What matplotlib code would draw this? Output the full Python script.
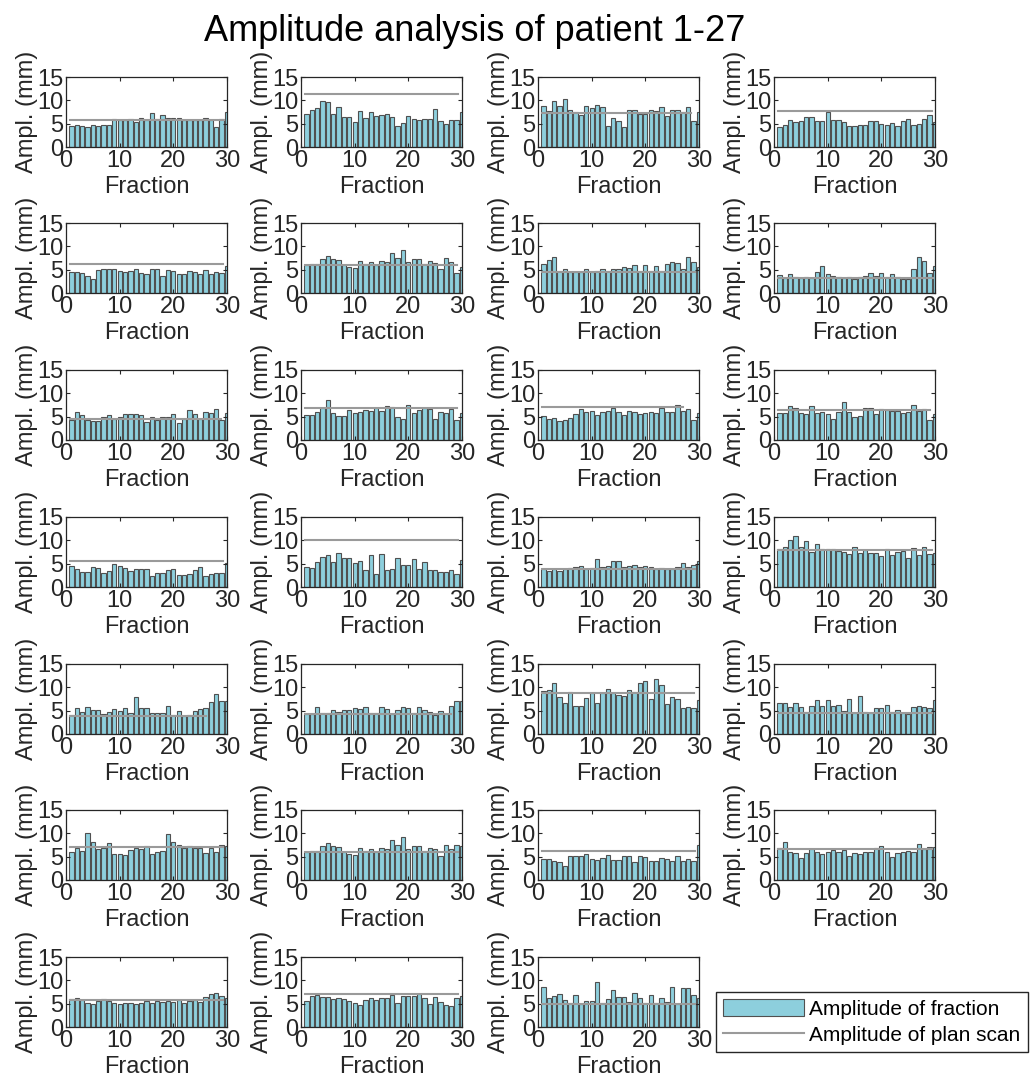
import matplotlib.pyplot as plt
from matplotlib.patches import Patch
from matplotlib.lines import Line2D

plt.rcParams['font.family'] = ['Liberation Sans', 'DejaVu Sans']

# amplitude per fraction (mm), one list per patient
p01 = [4.6, 4.7, 4.5, 4.2, 4.8, 4.4, 4.8, 4.7, 5.9, 5.8, 5.8, 5.9, 5.4, 6.2, 5.8, 7.3, 6.1, 6.9, 6.2, 6.2, 6.2, 5.7, 5.8, 5.8, 5.8, 6.2, 5.7, 4.3, 5.9, 7.6]
p02 = [7.1, 7.9, 8.3, 9.8, 9.7, 7.1, 8.5, 6.4, 6.4, 5.4, 7.8, 6.2, 7.5, 6.6, 6.9, 7.0, 6.5, 4.6, 5.1, 6.6, 5.9, 5.7, 5.9, 6.1, 8.1, 5.6, 5.0, 5.8, 5.7, 7.6]
p03 = [8.8, 7.8, 9.8, 8.8, 10.2, 8.0, 7.5, 6.9, 8.8, 8.3, 9.1, 8.5, 4.6, 6.3, 5.6, 4.2, 7.9, 7.9, 7.1, 7.1, 7.9, 7.8, 8.5, 6.6, 8.0, 8.0, 7.6, 8.6, 5.6, 7.6]
p04 = [4.3, 4.7, 5.8, 5.3, 5.6, 6.5, 6.5, 5.6, 5.5, 7.4, 5.7, 5.8, 5.4, 4.6, 4.5, 4.8, 4.7, 5.5, 5.6, 5.0, 4.8, 5.2, 4.5, 5.6, 6.1, 4.7, 5.0, 6.1, 6.9, 5.3]
p05 = [4.4, 4.5, 4.2, 3.7, 2.9, 5.0, 5.2, 5.1, 5.2, 4.7, 4.4, 4.8, 5.1, 4.2, 4.1, 5.1, 5.1, 3.7, 5.0, 4.8, 4.1, 4.1, 4.7, 4.5, 4.1, 5.0, 4.1, 4.5, 4.3, 5.8]
p06 = [5.9, 6.3, 6.3, 7.3, 7.9, 7.2, 7.0, 5.9, 5.6, 5.4, 6.9, 6.2, 6.6, 6.1, 6.9, 6.7, 8.5, 7.4, 9.2, 6.6, 7.3, 7.2, 6.2, 6.8, 6.4, 5.2, 7.6, 6.7, 4.3, 5.5]
p07 = [6.2, 7.0, 7.7, 4.7, 5.2, 4.6, 4.5, 4.6, 5.1, 4.6, 4.8, 5.2, 4.8, 5.1, 5.2, 5.5, 5.4, 5.9, 4.7, 6.0, 4.7, 5.8, 4.7, 6.3, 6.7, 6.5, 5.1, 7.7, 6.7, 5.6]
p08 = [3.9, 3.2, 4.0, 3.4, 3.2, 3.5, 3.2, 4.4, 5.7, 4.0, 3.6, 3.4, 3.3, 3.5, 2.9, 3.4, 3.6, 4.3, 3.7, 4.3, 3.4, 4.0, 3.5, 3.1, 3.0, 5.1, 7.7, 6.8, 4.3, 5.8]
p09 = [4.2, 5.9, 5.3, 4.2, 4.1, 4.1, 4.9, 5.4, 4.6, 4.9, 5.6, 5.5, 5.6, 5.3, 3.9, 5.0, 4.2, 5.0, 5.0, 5.5, 3.7, 4.5, 6.5, 5.6, 4.5, 6.0, 5.7, 6.6, 4.2, 5.7]
p10 = [5.3, 5.4, 6.1, 6.9, 8.5, 5.8, 5.2, 5.2, 6.4, 5.8, 6.1, 6.4, 6.2, 6.8, 6.2, 7.3, 7.1, 5.0, 4.6, 7.5, 5.8, 6.4, 6.9, 6.6, 4.4, 6.0, 5.7, 6.7, 4.2, 5.8]
p11 = [5.1, 4.4, 4.8, 4.0, 4.3, 4.7, 5.6, 6.6, 6.0, 6.2, 5.3, 6.0, 6.2, 6.8, 6.0, 5.4, 6.2, 6.0, 5.6, 5.7, 6.1, 5.8, 6.8, 5.9, 6.0, 7.4, 6.3, 6.7, 4.2, 5.8]
p12 = [5.7, 5.7, 7.3, 6.8, 5.8, 5.6, 7.3, 5.8, 6.1, 5.6, 4.6, 6.1, 8.1, 6.1, 5.0, 5.2, 6.8, 6.8, 5.6, 6.6, 6.5, 6.3, 6.2, 5.7, 6.0, 7.4, 6.2, 6.7, 4.2, 5.6]
p13 = [4.5, 3.8, 3.3, 3.3, 4.3, 4.1, 3.1, 3.4, 5.0, 4.6, 4.1, 3.4, 3.9, 3.8, 3.9, 2.4, 3.0, 3.0, 3.6, 3.9, 2.5, 2.5, 2.8, 3.7, 4.2, 2.4, 2.7, 3.0, 2.9, 5.2]
p14 = [4.2, 4.0, 5.4, 6.4, 6.8, 5.3, 7.3, 6.3, 6.3, 5.1, 5.6, 3.6, 6.8, 2.7, 7.0, 3.6, 3.8, 6.3, 4.8, 4.8, 6.0, 3.8, 5.3, 3.6, 3.6, 3.3, 3.2, 3.7, 2.7, 5.7]
p15 = [3.8, 3.4, 3.8, 3.5, 3.8, 4.1, 4.3, 4.6, 3.9, 4.1, 6.0, 4.3, 4.4, 5.5, 5.5, 4.3, 4.4, 4.8, 4.2, 4.5, 4.2, 3.9, 4.0, 3.8, 3.8, 4.3, 5.2, 4.2, 4.7, 5.5]
p16 = [8.1, 8.6, 10.0, 10.9, 8.5, 9.8, 7.5, 9.3, 8.2, 8.1, 8.1, 7.7, 7.4, 7.1, 8.6, 7.2, 8.0, 7.2, 7.3, 6.6, 8.1, 6.8, 7.6, 7.8, 6.3, 8.3, 6.8, 8.6, 7.0, 7.3]
p17 = [4.1, 5.5, 4.8, 5.8, 5.2, 5.2, 4.2, 4.8, 5.3, 4.9, 5.5, 4.6, 7.9, 5.6, 5.6, 4.6, 4.5, 4.5, 6.1, 4.1, 5.0, 3.8, 4.0, 5.0, 5.3, 5.5, 6.8, 8.6, 7.1, 7.1]
p18 = [4.3, 4.2, 5.7, 4.6, 4.6, 5.1, 4.8, 5.1, 5.1, 5.6, 5.3, 5.8, 4.6, 4.6, 5.8, 5.4, 4.2, 5.1, 5.7, 5.5, 4.5, 5.7, 5.1, 4.8, 4.1, 5.0, 4.2, 6.0, 7.0, 7.1]
p19 = [9.3, 9.4, 10.9, 7.9, 6.6, 9.1, 6.1, 5.9, 7.8, 8.8, 6.6, 8.8, 9.6, 8.7, 8.3, 8.1, 9.5, 9.0, 10.9, 11.3, 7.6, 11.8, 10.6, 6.5, 8.0, 7.4, 5.6, 5.8, 5.6, 7.3]
p20 = [6.7, 6.7, 5.7, 6.6, 5.8, 4.8, 5.9, 7.2, 6.1, 7.2, 6.0, 6.3, 5.0, 7.5, 4.4, 8.1, 4.7, 4.4, 5.5, 5.5, 6.2, 4.7, 5.1, 4.6, 4.3, 5.8, 6.0, 5.7, 5.6, 7.2]
p21 = [5.9, 6.9, 6.3, 10.0, 8.1, 6.7, 6.9, 8.0, 5.6, 5.6, 5.3, 6.4, 6.8, 6.7, 7.2, 5.6, 5.9, 6.2, 9.8, 8.2, 7.4, 6.8, 7.2, 6.9, 6.9, 5.8, 6.9, 6.1, 7.4, 7.3]
p22 = [5.9, 6.3, 6.3, 7.3, 7.9, 7.2, 7.0, 5.9, 5.6, 5.4, 6.9, 6.2, 6.6, 6.1, 6.9, 6.7, 8.5, 7.4, 9.2, 6.6, 7.3, 7.2, 6.2, 6.8, 6.6, 5.1, 7.6, 6.6, 7.5, 7.3]
p23 = [4.4, 4.5, 4.1, 3.8, 2.9, 5.1, 5.2, 5.1, 5.5, 4.6, 4.3, 4.8, 5.3, 4.2, 4.2, 5.2, 5.1, 3.8, 5.2, 4.9, 4.1, 4.1, 4.7, 4.6, 4.0, 5.2, 4.1, 4.6, 4.1, 7.4]
p24 = [6.8, 8.1, 6.0, 5.8, 4.8, 5.8, 6.6, 6.0, 5.5, 5.9, 6.5, 6.0, 6.5, 5.2, 5.8, 5.6, 6.1, 5.9, 6.9, 7.2, 5.9, 5.0, 5.7, 5.9, 6.3, 6.0, 7.7, 6.6, 7.1, 7.1]
p25 = [5.9, 6.3, 5.8, 5.2, 5.0, 5.6, 6.0, 5.5, 5.2, 5.0, 5.2, 5.2, 5.0, 5.2, 5.5, 5.2, 5.5, 5.3, 5.6, 5.4, 5.7, 5.2, 5.6, 5.8, 5.4, 6.4, 7.0, 7.2, 6.6, 6.3]
p26 = [5.6, 6.6, 6.8, 6.4, 6.4, 5.9, 6.3, 5.9, 5.6, 5.1, 4.8, 5.8, 6.2, 5.8, 6.3, 6.3, 6.8, 5.2, 6.7, 6.6, 6.6, 7.0, 6.2, 5.0, 6.4, 5.3, 4.8, 4.6, 6.3, 6.7]
p27 = [8.5, 6.2, 6.7, 7.0, 5.8, 5.2, 6.8, 5.0, 5.5, 5.5, 9.6, 5.1, 6.0, 7.9, 6.4, 6.5, 5.4, 7.2, 6.3, 5.2, 6.9, 5.2, 6.3, 5.4, 8.6, 5.0, 8.3, 8.3, 6.9, 6.2]

patients = [p01, p02, p03, p04, p05, p06, p07, p08, p09, p10, p11, p12, p13, p14,
            p15, p16, p17, p18, p19, p20, p21, p22, p23, p24, p25, p26, p27]

# amplitude of the planning scan (mm) and the last fraction it is drawn to
plan = [5.8, 11.4, 7.2, 7.7, 6.3, 6.0, 4.6, 3.3, 4.6, 6.9, 7.0, 6.4, 5.5, 10.0,
        3.8, 7.9, 3.9, 4.2, 8.8, 4.4, 7.0, 6.0, 6.3, 6.6, 5.7, 7.1, 5.0]
plan_end = [29.4, 29.2, 28.5, 29.5, 29.2, 29.1, 29.3, 29.6, 28.9, 29.1, 27.1, 29.0, 29.2, 29.2,
            29.3, 29.5, 26.0, 28.0, 29.1, 29.5, 29.2, 29.2, 29.2, 29.5, 29.2, 29.2, 29.2]

bar_color = '#8dcfdd'
edge_color = '#505050'
plan_color = '#9a9a9a'
txt = '#262626'

W, H = 1033, 1090
fig = plt.figure(figsize=(W / 100, H / 100), dpi=100)

lefts = [66, 301, 538, 774]
tops = [77, 223, 370, 517, 664, 810, 957]
aw, ah = 161, 70

for i, amp in enumerate(patients):
    r, c = divmod(i, 4)
    ax = fig.add_axes([lefts[c] / W, 1 - (tops[r] + ah) / H, aw / W, ah / H])
    frac = list(range(1, len(amp) + 1))
    ax.bar(frac, amp, width=0.8, color=bar_color, edgecolor=edge_color, linewidth=0.8)
    ax.plot([0.8, plan_end[i]], [plan[i], plan[i]], color=plan_color, linewidth=1.5)
    ax.set_xlim(0, 30)
    ax.set_ylim(0, 15)
    ax.set_xticks([0, 10, 20, 30])
    ax.set_yticks([0, 5, 10, 15])
    ax.tick_params(direction='in', length=3, top=True, right=True, labelsize=17,
                   color=txt, labelcolor=txt, pad=2)
    for s in ax.spines.values():
        s.set_color(txt)
        s.set_linewidth(0.9)
    ax.set_xlabel('Fraction', fontsize=17, color=txt, labelpad=3)
    ax.set_ylabel('Ampl. (mm)', fontsize=17, color=txt, labelpad=-1)

fig.suptitle('Amplitude analysis of patient 1-27', fontsize=26, x=0.46, y=0.987)

handles = [Patch(facecolor=bar_color, edgecolor=edge_color, linewidth=0.8),
           Line2D([0], [0], color=plan_color, linewidth=1.5)]
fig.legend(handles, ['Amplitude of fraction', 'Amplitude of plan scan'],
           loc='lower right', bbox_to_anchor=(1028 / W, 38 / H),
           fontsize=15, handlelength=3.9, handleheight=0.9,
           fancybox=False, edgecolor=txt, framealpha=1,
           borderpad=0.35, borderaxespad=0, labelspacing=0.3, handletextpad=0.25)

fig.savefig('out.png', dpi=100)
